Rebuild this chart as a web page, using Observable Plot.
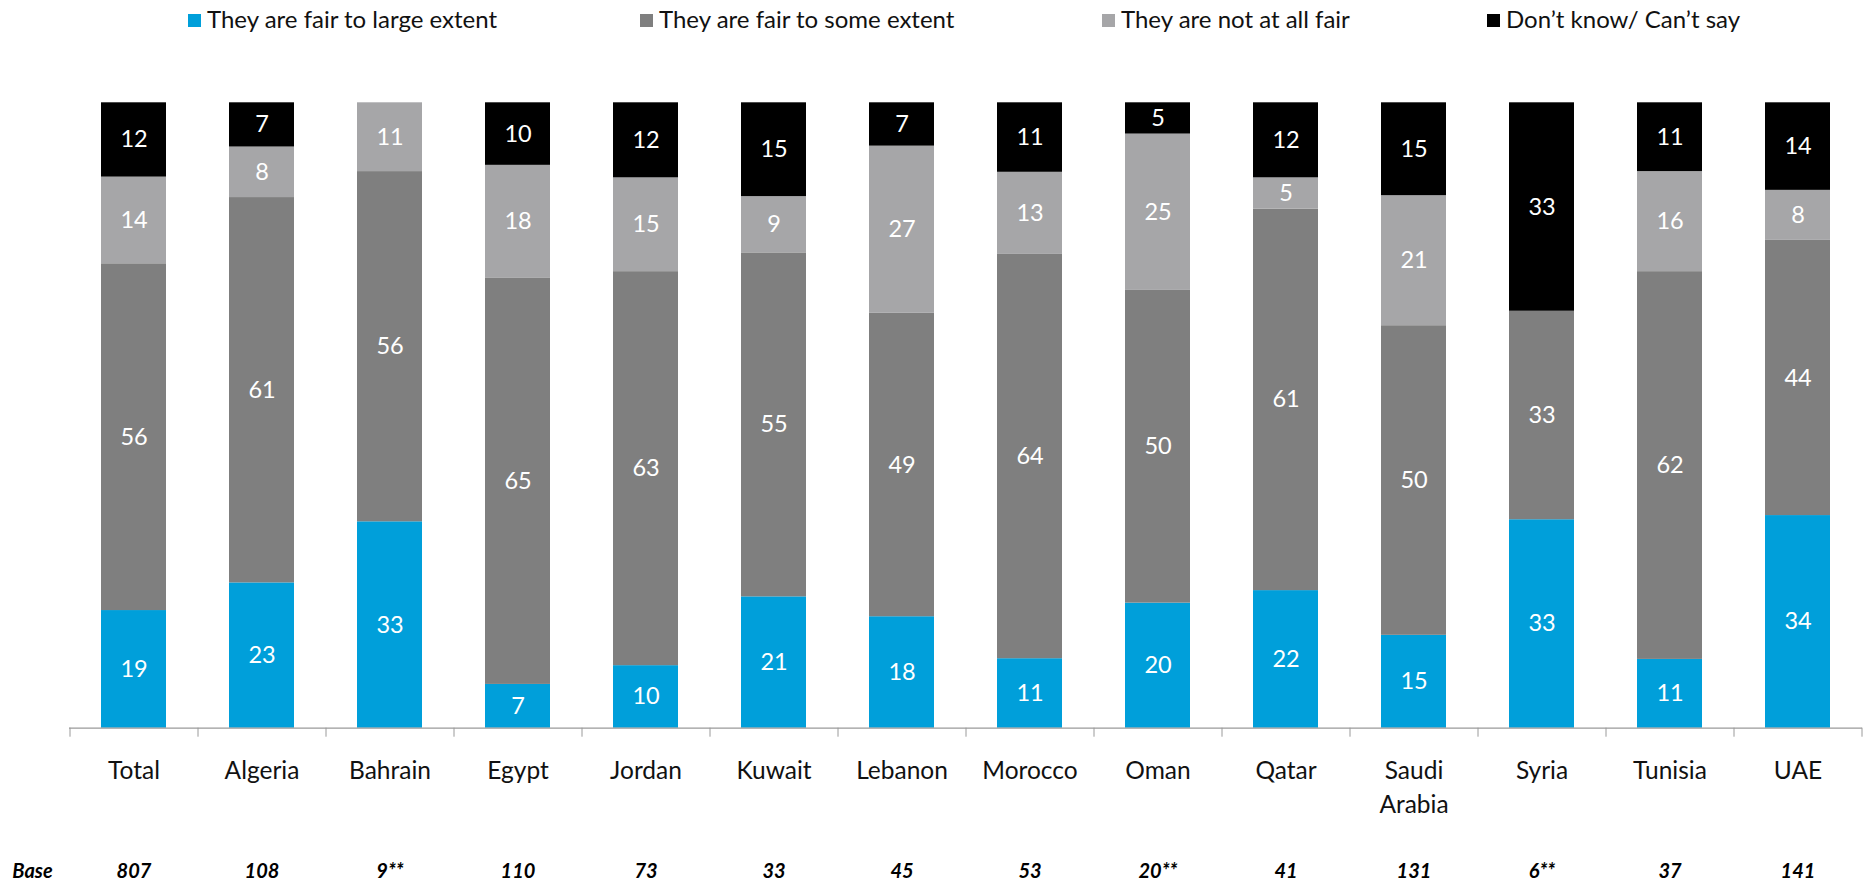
<!DOCTYPE html>
<html>
<head>
<meta charset="utf-8">
<script src="https://cdn.jsdelivr.net/npm/d3@7"></script>
<script src="https://cdn.jsdelivr.net/npm/@observablehq/plot@0.6"></script>
<style>
  html, body { margin: 0; padding: 0; background: #fff; }
  body { width: 1874px; height: 882px; overflow: hidden; font-family: Lato, "Open Sans", sans-serif; }
  #legend { position: relative; width: 1874px; height: 44px; }
  .item { position: absolute; top: 0; height: 44px; }
  .sw { position: absolute; top: 14px; width: 13px; height: 13px; }
  .lab { position: absolute; left: 19px; top: 5px; font-size: 24px; line-height: 28px; white-space: nowrap; color: #111; }
  #chart svg { display: block; }
</style>
</head>
<body>
<div id="legend"></div>
<div id="chart"></div>
<script>
const categories = ["Total","Algeria","Bahrain","Egypt","Jordan","Kuwait","Lebanon","Morocco","Oman","Qatar","Saudi Arabia","Syria","Tunisia","UAE"];
const tickLabels = ["Total","Algeria","Bahrain","Egypt","Jordan","Kuwait","Lebanon","Morocco","Oman","Qatar","Saudi\nArabia","Syria","Tunisia","UAE"];
const baseTitle = "Base";
const baseLabels = ["807","108","9**","110","73","33","45","53","20**","41","131","6**","37","141"];
const seriesNames = ["They are fair to large extent","They are fair to some extent","They are not at all fair","Don\u2019t know/ Can\u2019t say"];
const fairLarge = [19,23,33,7,10,21,18,11,20,22,15,33,11,34];
const fairSome  = [56,61,56,65,63,55,49,64,50,61,50,33,62,44];
const notFair   = [14,8,11,18,15,9,27,13,25,5,21,0,16,8];
const dontKnow  = [12,7,0,10,12,15,7,11,5,12,15,33,11,14];
const colors = ["#009FDA","#7F7F7F","#A6A6A8","#000000"];

const seriesValues = [fairLarge, fairSome, notFair, dontKnow];
const data = categories.flatMap((c, i) =>
  seriesNames.map((s, j) => ({category: c, series: s, value: seriesValues[j][i]}))
);

// Legend
const legendX = [188, 640, 1102, 1487];
const legend = document.getElementById("legend");
seriesNames.forEach((s, j) => {
  const it = document.createElement("div");
  it.className = "item";
  it.style.left = legendX[j] + "px";
  const sw = document.createElement("div");
  sw.className = "sw";
  sw.style.background = colors[j];
  const lab = document.createElement("div");
  lab.className = "lab";
  lab.textContent = s;
  it.appendChild(sw);
  it.appendChild(lab);
  legend.appendChild(it);
});

const plotH = 625.4;
const chart = Plot.plot({
  width: 1874,
  height: 838,
  marginTop: 58.3,
  marginBottom: 154.3,
  marginLeft: 69,
  marginRight: 12,
  style: {fontFamily: "Lato, 'Open Sans', sans-serif", background: "white"},
  x: {domain: categories, paddingInner: 0.495, paddingOuter: 0.2475, axis: null},
  y: {domain: [0, 1], axis: null},
  color: {domain: seriesNames, range: colors},
  marks: [
    Plot.barY(data, Plot.stackY({offset: "normalize"}, {x: "category", y: "value", fill: "series"})),
    Plot.text(data.filter(d => d.value > 0), Plot.stackY({offset: "normalize"}, {
      x: "category", y: "value", text: d => String(d.value),
      fill: "white", fontSize: 23.5
    })),
    Plot.ruleY([0], {stroke: "#9a9a9a", strokeWidth: 1.2}),
    Plot.ruleX(categories, {x: d => d, dx: -64, y1: 0, y2: -9 / plotH, stroke: "#9a9a9a"}),
    Plot.ruleX([categories[categories.length - 1]], {x: d => d, dx: 64, y1: 0, y2: -9 / plotH, stroke: "#9a9a9a"}),
    Plot.text(categories, {
      x: d => d, y: () => 0, dy: 27, lineAnchor: "top", lineHeight: 1.38,
      fontSize: 24.5, fill: "#111", text: (d, i) => tickLabels[i]
    }),
    Plot.text(categories, {
      x: d => d, y: () => 0, dy: 143.3, lineAnchor: "middle",
      fontSize: 20, fontWeight: "bold", fontStyle: "italic", fill: "#000",
      text: (d, i) => baseLabels[i]
    }),
    Plot.text([baseTitle], {
      x: () => categories[0], y: () => 0, dy: 143.3, dx: -101.5, lineAnchor: "middle",
      fontSize: 20, fontWeight: "bold", fontStyle: "italic", fill: "#000",
      text: d => d
    })
  ]
});
document.getElementById("chart").appendChild(chart);
</script>
</body>
</html>
